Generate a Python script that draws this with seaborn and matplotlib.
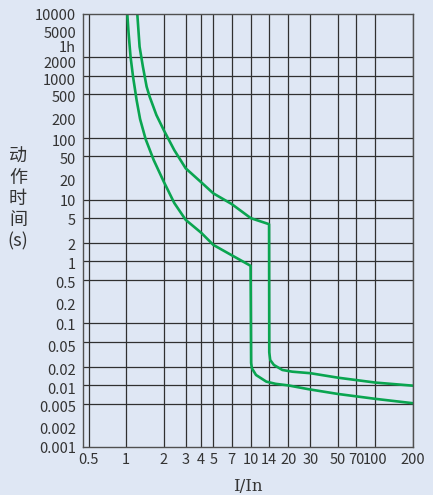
import pandas as pd
import seaborn as sns
from matplotlib import pyplot as plt

# Trip curve: multiple of rated current vs. time (s)
lower_x = [1.02, 1.044, 1.083, 1.135, 1.178, 1.211, 1.292, 1.431, 1.661, 2, 2.43,
           3, 4, 5, 6.6, 9.95, 10.05, 10.2, 11, 13.3, 15.8, 20, 29, 50, 100, 200]
lower_t = [10000, 5000, 2040, 960, 590, 407, 200, 95, 43.6, 19.5, 8.8,
           4.7, 2.9, 1.85, 1.35, 0.85, 0.0228, 0.0187, 0.0146, 0.0114, 0.0105,
           0.0099, 0.0086, 0.0072, 0.006, 0.0051]
upper_x = [1.227, 1.28, 1.361, 1.458, 1.542, 1.746, 2, 2.43, 3, 4, 5, 7, 10, 14,
           14.05, 14.3, 15.3, 17.9, 21.5, 30, 50, 100, 200]
upper_t = [10000, 2960, 1406, 668, 460, 233, 133, 63, 32, 19, 12.6, 8.5, 5, 4,
           0.034, 0.0255, 0.0212, 0.0176, 0.0165, 0.0156, 0.0132, 0.011, 0.0098]

grid_t = [10000, 5000, 2000, 1000, 500, 200, 100, 50, 20, 10, 5, 2, 1,
          0.5, 0.2, 0.1, 0.05, 0.02, 0.01, 0.005, 0.002, 0.001]
label_t = [10000, 5000, 3000, 1650, 880, 470, 200, 90, 46, 20, 9.5, 4.7, 1.9,
           0.93, 0.45, 0.2, 0.097, 0.042, 0.018, 0.0088, 0.0045, 0.002, 0.001]
label_t_text = ["10000", "5000", "1h", "2000", "1000", "500", "200", "100", "50",
                "20", "10", "5", "2", "1", "0.5", "0.2", "0.1", "0.05", "0.02",
                "0.01", "0.005", "0.002", "0.001"]
ticks_x = [0.5, 1, 2, 3, 4, 5, 7, 10, 14, 20, 30, 50, 70, 100, 200]
ticks_x_text = ["0.5", "1", "2", "3", "4", "5", "7", "10", "14", "20", "30",
                "50", "70", "100", "200"]

curves = pd.concat([
    pd.DataFrame({"x": lower_x, "t": lower_t, "curve": "lower"}),
    pd.DataFrame({"x": upper_x, "t": upper_t, "curve": "upper"}),
])

bg = "#dfe7f4"
ink = "#333333"
green = "#0aa550"

sns.set_style("white")
plt.rcParams["font.family"] = ["Noto Sans CJK SC", "DejaVu Sans"]

fig = plt.figure(figsize=(4.33, 4.95), dpi=100, facecolor=bg)
ax = fig.add_axes([83 / 433, 1 - 447 / 495, 330 / 433, 433 / 495])
ax.set_facecolor(bg)

sns.lineplot(data=curves, x="x", y="t", hue="curve", palette=[green, green],
             sort=False, estimator=None, legend=False, linewidth=1.9, ax=ax)

ax.set_xscale("log")
ax.set_yscale("log")
ax.set_xlim(0.45, 200)
ax.set_ylim(0.001, 10000)

# gridlines on the real values, labels where the picture puts them
ax.set_yticks(grid_t, minor=True)
ax.set_yticks(label_t, label_t_text)
ax.yaxis.set_minor_formatter(plt.NullFormatter())
ax.set_xticks(ticks_x, ticks_x_text)
ax.xaxis.set_minor_locator(plt.NullLocator())

ax.grid(False)
ax.yaxis.grid(True, which="minor", color="#303030", linewidth=0.9)
ax.xaxis.grid(True, which="major", color="#303030", linewidth=0.9)

ax.tick_params(axis="both", which="both", length=0, labelsize=10.5, labelcolor=ink)
ax.tick_params(axis="y", pad=5)
ax.tick_params(axis="x", pad=4)
for s in ax.spines.values():
    s.set_color("#505050")
    s.set_linewidth(1.0)

ax.set_ylabel("动\n作\n时\n间\n(s)", rotation=0, fontsize=13, color=ink,
              linespacing=1.22, ha="center", va="center")
ax.yaxis.set_label_coords(-0.197, 0.573)
ax.set_xlabel("I/In", fontsize=12, color=ink, family=["DejaVu Serif"])
ax.xaxis.set_label_coords(0.5, -0.072)

fig.savefig("out.png", dpi=100, facecolor=bg)
